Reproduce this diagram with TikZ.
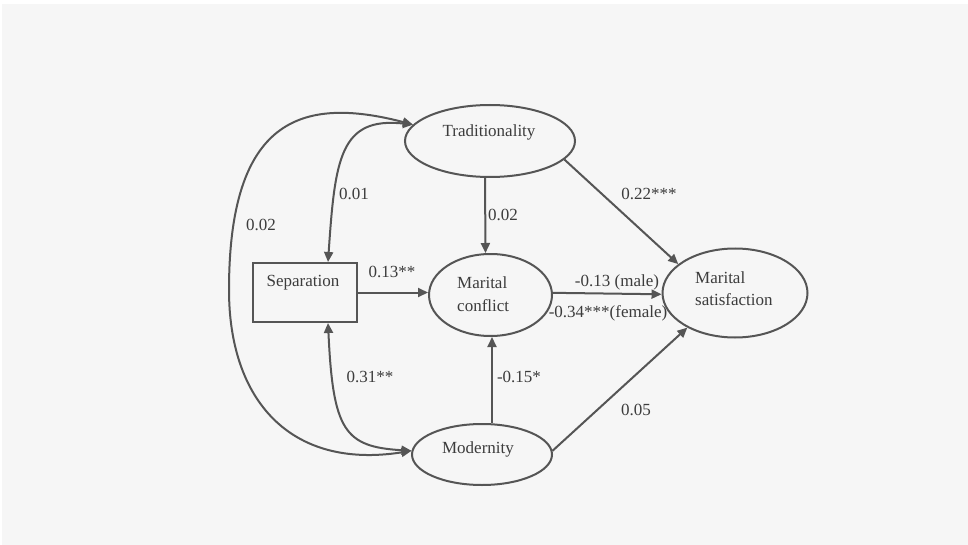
\documentclass[tikz,border=0pt]{standalone}
\usepackage{fontspec}
\setmainfont{Liberation Serif}
\usetikzlibrary{shapes.geometric,arrows.meta,calc}
\definecolor{bg}{HTML}{F6F6F6}
\definecolor{ln}{HTML}{555555}
\definecolor{tx}{HTML}{3C3C3C}
\begin{document}
\begin{tikzpicture}[x=1pt,y=-1pt,
  font=\fontsize{17}{20}\selectfont,
  oval/.style={draw=ln,line width=2pt,ellipse,inner sep=0pt},
  txt/.style={text=tx,anchor=base,inner sep=0pt},
  tip/.tip={Triangle[length=10pt,width=9pt]},
  arr/.style={draw=ln,line width=2pt,-tip},
  dbl/.style={draw=ln,line width=2pt,tip-tip}]
\useasboundingbox (0,0) rectangle (968,545);
\fill[white] (0,0) rectangle (968,545);
\fill[bg] (2,4) rectangle (968,545);

% nodes
\node[oval,minimum width=170,minimum height=72] (trad) at (490,141) {};
\node[oval,minimum width=123,minimum height=82] (conf) at (490.5,295) {};
\node[oval,minimum width=145,minimum height=89] (sat) at (735,293) {};
\node[oval,minimum width=140,minimum height=61] (mod) at (482,454.5) {};
\node[draw=ln,line width=2pt,minimum width=104,minimum height=59,inner sep=0pt] (sep) at (305,292.5) {};

% node texts
\node[txt] (tTrad) at (489,137) {Traditionality};
\node[txt] (tSep) at (303,286) {Separation};
\node[txt,anchor=base west] (tConfA) at (457,288) {Marital};
\node[txt,anchor=base west] (tConfB) at (457,311) {conflict};
\node[txt,anchor=base west] (tSatA) at (695,283) {Marital};
\node[txt,anchor=base west] (tSatB) at (695,305) {satisfaction};
\node[txt] (tMod) at (478,453) {Modernity};

% straight paths
\draw[arr] ([xshift=-5pt]trad.south) -- ([xshift=-5pt]conf.north);
\draw[arr] (sep.east) -- (sep.east -| conf.west);
\draw[arr] (conf.2) -- (sat.181);
\draw[arr] (trad.-14) -- (sat.153);
\draw[arr] (mod.3) -- (sat.216);
\draw[arr] ([xshift=10pt]mod.north) -- ([xshift=1.5pt]conf.south);

% curved correlations
\coordinate (outerL) at (229,290);
\draw[dbl] (trad.168) .. controls (300,95) and (229,120) .. (outerL)
  .. controls (229,400) and (290,470) .. (mod.177);
\draw[dbl] ([xshift=23pt]sep.north) .. controls +(7,-103) and +(-73,-8) .. (trad.168);
\draw[dbl] ([xshift=23pt]sep.south) .. controls +(5,108) and +(-67,-4) .. (mod.177);

% path labels
\node[txt] (l1) at (354,200) {0.01};
\node[txt] (l2) at (261,230) {0.02};
\node[txt] (l3) at (503,221) {0.02};
\node[txt] (l4) at (392,277) {0.13**};
\node[txt] (l5) at (649,200) {0.22***};
\node[txt] (l6) at (617,286) {-0.13 (male)};
\node[txt] (l7) at (608,317) {-0.34***(female)};
\node[txt] (l8) at (519,382) {-0.15*};
\node[txt] (l9) at (370,382) {0.31**};
\node[txt] (l10) at (636,415) {0.05};
\end{tikzpicture}
\end{document}
